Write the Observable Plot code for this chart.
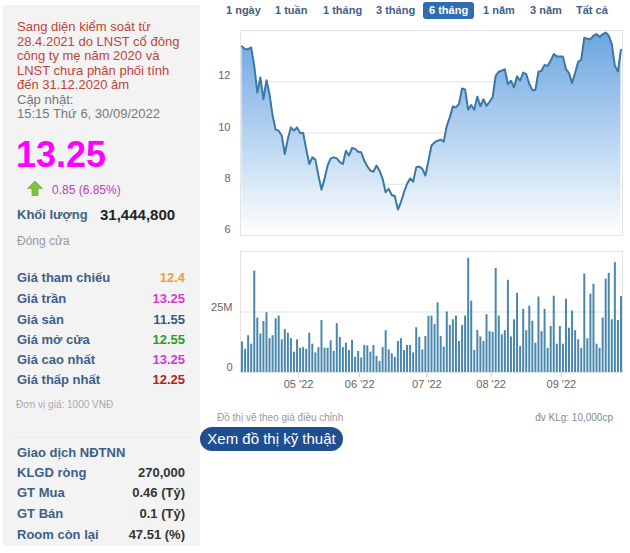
<!DOCTYPE html>
<html><head><meta charset="utf-8">
<script src="https://cdn.jsdelivr.net/npm/d3@7"></script>
<script src="https://cdn.jsdelivr.net/npm/@observablehq/plot@0.6"></script>
<style>
body{margin:0;background:#fff;font-family:Arial,"Liberation Sans",sans-serif;}
#root{position:relative;width:630px;height:553px;overflow:hidden;background:#fff;}
.a{position:absolute;white-space:nowrap;}
#left{position:absolute;left:3px;top:5px;width:197px;height:541px;background:#f3f3f3;}
.row{position:absolute;left:17px;width:168px;display:flex;justify-content:space-between;font-size:13px;font-weight:bold;line-height:16px;}
.lbl{color:#3f5f88;}
.btn{position:absolute;top:3px;font-size:11px;font-weight:bold;color:#3f5f88;line-height:14px;}
g[aria-label^="x-axis"] line, g[aria-label^="x-axis"] path{stroke:#c8c8c8;}
</style></head><body><div id="root">
<div id="left"></div>
<div id="note" class="a" style="left:17px;top:20px;font-size:13px;line-height:14.5px;color:#c0433a;"></div>
<div id="bigPrice" class="a" style="left:16px;top:137px;font-size:36px;line-height:36px;font-weight:bold;color:#f0f;"></div>
<svg class="a" style="left:27px;top:180px" width="16" height="16"><polygon points="8,1 15.5,8.5 11,8.5 11,15.5 5,15.5 5,8.5 0.5,8.5" fill="#7cc43a" stroke="#5aa22a" stroke-width="0.6"/></svg>
<div id="change" class="a" style="left:52px;top:183px;font-size:12px;line-height:14px;color:#c23cc2;"></div>
<div id="volLbl" class="a" style="left:17px;top:208px;font-size:13px;line-height:14px;font-weight:bold;color:#3f5f88;"></div>
<div id="volVal" class="a" style="left:100px;top:207px;font-size:15px;line-height:16px;font-weight:bold;color:#222;"></div>
<div id="closeLbl" class="a" style="left:17px;top:234px;font-size:12px;line-height:14px;color:#999;"></div>
<div id="stats"></div>
<div id="unit" class="a" style="left:16px;top:399px;font-size:10px;line-height:12px;color:#aaa;"></div>
<div class="a" style="left:13px;top:437px;width:178px;height:1px;background:#ebebeb;"></div>
<div id="foreignTitle" class="a" style="left:17px;top:445px;font-size:13px;line-height:16px;font-weight:bold;color:#3f5f88;"></div>
<div id="foreign"></div>
<div class="a" style="left:423px;top:2px;width:51px;height:17px;background:#2f6db0;border-radius:3px;"></div>
<div id="btns"></div>
<div id="priceChart" class="a" style="left:200px;top:20px;"></div>
<div id="volChart" class="a" style="left:200px;top:245px;"></div>
<div id="adj" class="a" style="left:217px;top:412px;font-size:10px;line-height:12px;color:#999;"></div>
<div id="unitVol" class="a" style="right:17px;top:412px;font-size:10px;line-height:12px;color:#888;"></div>
<div class="a" style="left:200px;top:427px;width:143px;height:24px;background:#1f4f8f;border-radius:12px;color:#fff;font-size:15px;line-height:24px;text-align:center;" id="techBtn"></div>
</div>
<script>
// ---- data ----
const noteLines = ["Sang diện kiểm soát từ", "28.4.2021 do LNST cổ đông", "công ty mẹ năm 2020 và", "LNST chưa phân phối tính", "đến 31.12.2020 âm"];
const updateLines = ["Cập nhật:", "15:15 Thứ 6, 30/09/2022"];
const lastPrice = "13.25";
const change = "0.85 (6.85%)";
const volumeLabel = "Khối lượng";
const volumeValue = "31,444,800";
const closeLabel = "Đóng cửa";
const statLabels = ["Giá tham chiếu", "Giá trần", "Giá sàn", "Giá mở cửa", "Giá cao nhất", "Giá thấp nhất"];
const statValues = ["12.4", "13.25", "11.55", "12.55", "13.25", "12.25"];
const statColors = ["#f0a030", "#d23ad2", "#2a5d8c", "#2e9b2e", "#d23ad2", "#b22222"];
const unitText = "Đơn vị giá: 1000 VNĐ";
const foreignTitle = "Giao dịch NĐTNN";
const foreignLabels = ["KLGD ròng", "GT Mua", "GT Bán", "Room còn lại"];
const foreignValues = ["270,000", "0.46 (Tỷ)", "0.1 (Tỷ)", "47.51 (%)"];
const rangeButtons = ["1 ngày", "1 tuần", "1 tháng", "3 tháng", "6 tháng", "1 năm", "3 năm", "Tất cả"];
const activeButton = "6 tháng";
const adjText = "Đồ thị vẽ theo giá điều chỉnh";
const volUnitText = "đv KLg: 10,000cp";
const techText = "Xem đồ thị kỹ thuật";

const prices = [
  13.38, 13.27, 13.27, 13.34, 12.62, 11.58, 12.17, 11.32, 12.06, 11.52,
  10.68, 10.13, 10.09, 9.90, 9.18, 9.77, 10.22, 10.09, 10.22, 10.00,
  10.00, 9.38, 8.79, 9.05, 8.96, 8.34, 7.79, 8.21, 8.73, 9.01,
  9.05, 9.01, 8.86, 8.79, 9.31, 9.12, 9.42, 9.38, 9.27, 9.25,
  8.92, 8.70, 8.53, 8.49, 8.73, 8.53, 8.21, 7.69, 7.82, 7.58,
  7.53, 7.01, 7.30, 7.69, 8.01, 8.23, 8.10, 8.66, 8.69, 8.60,
  8.34, 8.92, 9.51,
  9.63, 9.70, 9.74, 9.66, 10.28, 10.61, 11.04, 11.00, 11.13, 11.74,
  11.69, 10.91, 11.09, 10.91, 11.42, 11.04, 11.32, 11.06, 11.22, 11.39,
  12.23, 12.39, 12.43, 12.49, 11.91, 12.04, 11.78, 12.21, 12.04, 12.36,
  12.30, 11.91, 11.68, 11.68, 12.39, 12.43, 12.65, 12.62, 12.82, 13.08,
  12.99, 12.99, 12.99, 12.49, 12.34, 11.95, 12.34, 12.78, 12.86, 13.72,
  13.68, 13.66, 13.80, 13.86, 13.75, 13.85, 13.92, 13.80, 13.47, 12.62,
  12.40, 13.25
];
// volume in millions of shares
const volumes = [
  12.6, 9.6, 15.2, 11.7, 41.9, 22.5, 15.9, 21.1, 24.7, 14.0,
  15.2, 22.2, 23.3, 13.5, 17.7, 16.2, 14.0, 8.4, 13.5, 10.0,
  10.3, 9.6, 16.2, 11.7, 8.1, 10.3, 21.5, 10.0, 10.0, 13.1,
  8.7, 20.2, 14.5, 10.3, 12.1, 9.1, 13.3, 6.3, 8.7, 6.0,
  11.2, 11.0, 8.4, 11.2, 6.7, 4.6, 10.3, 17.3, 9.3, 7.7,
  6.3, 12.8, 14.0, 9.1, 11.2, 11.2, 8.1, 18.5, 14.5, 9.3,
  14.9, 23.2, 23.3,
  19.8, 28.8, 14.9, 10.5, 25.0, 19.4, 21.8, 23.3, 12.8, 19.4,
  23.3, 47.2, 29.5, 9.1, 17.4, 14.7, 12.8, 23.9, 16.9, 16.6,
  43.0, 23.3, 15.6, 17.3, 38.1, 14.7, 21.8, 32.7, 10.7, 26.1,
  17.3, 27.4, 21.2, 12.1, 31.2, 16.9, 26.1, 10.0, 19.0, 31.5,
  11.7, 19.0, 11.7, 30.3, 18.3, 25.4, 17.3, 13.5, 10.0, 40.7,
  14.0, 32.4, 36.5, 11.7, 10.0, 22.5, 38.6, 41.0, 21.8, 45.4,
  21.5, 31.4
];
// trading days per month (Apr..Sep 2022)
const monthCounts = [19, 20, 22, 21, 23, 20];
const monthLabels = ["04 '22", "05 '22", "06 '22", "07 '22", "08 '22", "09 '22"];
const priceTicks = [6, 8, 10, 12];
const priceMax = 14;
const volumeTicks = [0, 25];
const volumeMax = 50;

// ---- text ----
document.getElementById("note").innerHTML =
  noteLines.join("<br>") + "<br>" + updateLines.map(t => `<span style="color:#777">${t}</span>`).join("<br>");
document.getElementById("bigPrice").textContent = lastPrice;
document.getElementById("change").textContent = change;
document.getElementById("volLbl").textContent = volumeLabel;
document.getElementById("volVal").textContent = volumeValue;
document.getElementById("closeLbl").textContent = closeLabel;
const statTops = [270, 291, 311.5, 332, 352, 372];
document.getElementById("stats").innerHTML = statLabels.map((l, k) =>
  `<div class="row" style="top:${statTops[k]}px"><span class="lbl">${l}</span><span style="color:${statColors[k]}">${statValues[k]}</span></div>`).join("");
document.getElementById("unit").textContent = unitText;
document.getElementById("foreignTitle").textContent = foreignTitle;
const fTops = [465, 485, 506, 527];
document.getElementById("foreign").innerHTML = foreignLabels.map((l, k) =>
  `<div class="row" style="top:${fTops[k]}px"><span class="lbl">${l}</span><span style="color:#333">${foreignValues[k]}</span></div>`).join("");
const btnLefts = [226, 275, 323, 376, 429, 483, 530, 576];
document.getElementById("btns").innerHTML = rangeButtons.map((b, k) =>
  `<div class="btn" style="left:${btnLefts[k]}px;${b === activeButton ? "color:#fff" : ""}">${b}</div>`).join("");
document.getElementById("adj").textContent = adjText;
document.getElementById("unitVol").textContent = volUnitText;
document.getElementById("techBtn").textContent = techText;

// ---- charts ----
const data = prices.map((p, i) => ({i, p, v: volumes[i]}));
const n = data.length;
const starts = [];
let acc = 0;
monthCounts.forEach(m => { starts.push(acc); acc += m; });
const tickPos = starts.slice(1).map(s => s - 0.5);
const tickLab = monthLabels.slice(1);
const xDomain = [-0.5, n - 0.5];
const font = {fontFamily: "Arial, 'Liberation Sans', sans-serif", fontSize: "11px", color: "#666", background: "transparent", overflow: "visible"};

const priceSvg = Plot.plot({
  width: 430, height: 220, marginLeft: 40, marginRight: 8, marginTop: 10, marginBottom: 5,
  style: font,
  x: {domain: xDomain, axis: null},
  y: {domain: [priceTicks[0], priceMax], axis: null},
  marks: [
    Plot.ruleY(priceTicks.slice(1), {stroke: "#e4e4e4"}),
    Plot.areaY(data, {x: "i", y1: priceTicks[0], y2: "p", fill: "url(#priceGrad)"}),
    Plot.lineY(data, {x: "i", y: "p", stroke: "#3b78a5", strokeWidth: 2}),
    Plot.frame({stroke: "#e3e3e3"}),
    Plot.text(priceTicks, {x: xDomain[0], y: d => d, text: d => String(d), textAnchor: "end", dx: -10, dy: -6, fill: "#666"})
  ]
});
const defs = d3.select(priceSvg).insert("defs", ":first-child");
const grad = defs.append("linearGradient").attr("id", "priceGrad")
  .attr("gradientUnits", "userSpaceOnUse").attr("x1", 0).attr("x2", 0).attr("y1", 10).attr("y2", 215);
grad.append("stop").attr("offset", "0%").attr("stop-color", "#6aa4e0");
grad.append("stop").attr("offset", "100%").attr("stop-color", "#ffffff");
document.getElementById("priceChart").appendChild(priceSvg);

const volSvg = Plot.plot({
  width: 430, height: 152, marginLeft: 40, marginRight: 8, marginTop: 6, marginBottom: 25,
  style: font,
  x: {domain: xDomain, ticks: tickPos, tickFormat: d => tickLab[tickPos.indexOf(d)], tickSize: 5, tickPadding: 3, label: null},
  y: {domain: [0, volumeMax], axis: null},
  marks: [
    Plot.frame({stroke: "#e3e3e3"}),
    Plot.ruleY([volumeTicks[1]], {stroke: "#e4e4e4"}),
    Plot.ruleX(data, {x: "i", y1: 0, y2: "v", stroke: "#4a87ad", strokeWidth: 2}),
    Plot.text(volumeTicks, {x: xDomain[0], y: d => d, text: d => d === 0 ? "0" : d + "M", textAnchor: "end", dx: -8, dy: -5, fill: "#666"})
  ]
});
document.getElementById("volChart").appendChild(volSvg);
</script>
</body></html>
